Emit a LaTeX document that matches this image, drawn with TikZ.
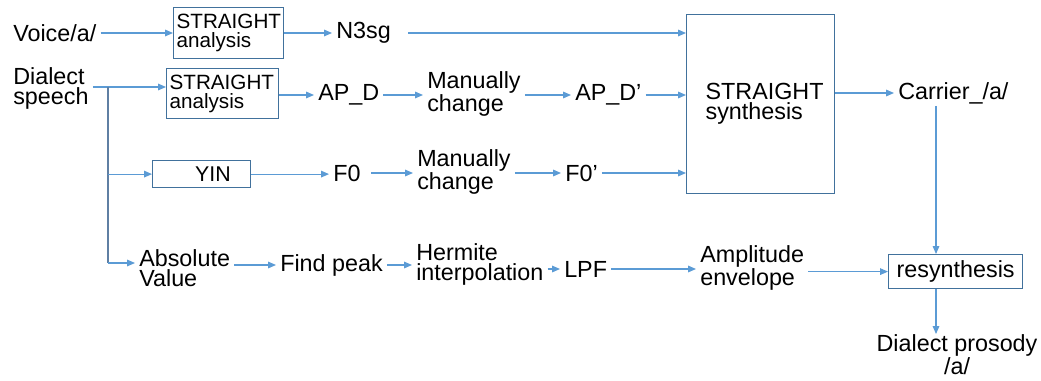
\documentclass[tikz,border=0pt]{standalone}
\usepackage{fontspec}
\setmainfont{Liberation Sans}
\usetikzlibrary{arrows.meta,calc}
\definecolor{arrowblue}{HTML}{5B9BD5}
\definecolor{boxblue}{HTML}{41719C}
\definecolor{trunkgray}{HTML}{5F7FA3}
\begin{document}
\begin{tikzpicture}[x=0.75pt,y=-0.75pt,
  txt/.style={inner xsep=3pt,inner ysep=0pt,anchor=west,font=\fontsize{17.5}{15}\selectfont,align=left},
  boxed/.style={draw=boxblue,line width=0.9pt,anchor=north west,inner ysep=0pt},
  arr/.style={draw=arrowblue,line width=0.8pt,-{Triangle[length=6pt,width=5pt]}},
  plain/.style={draw=arrowblue,line width=0.8pt},
]
\useasboundingbox (0,0) rectangle (1041,381);
% row 1
\node[txt] (voice) at (9,33) {Voice/a/};
\node[boxed,minimum width={110*0.75pt},minimum height={51*0.75pt},text width={104*0.75pt},inner xsep={3*0.75pt},align=left,font=\fontsize{15.5}{14}\selectfont] (box1) at (173,7) {STRAIGHT\\analysis};
\node[txt] (n3sg) at (332,33) {N3sg};
\node[boxed,minimum width={148*0.75pt},minimum height={179*0.75pt},text width={110*0.75pt},inner xsep={19*0.75pt},align=left,font=\fontsize{17.5}{15}\selectfont] (synth) at (686,14) {STRAIGHT\\synthesis};
% row 2
\node[txt] (dialect) at (9,88) {Dialect\\speech};
\node[boxed,minimum width={112*0.75pt},minimum height={50*0.75pt},text width={106*0.75pt},inner xsep={3*0.75pt},align=left,font=\fontsize{15.5}{14}\selectfont] (box2) at (166,68) {STRAIGHT\\analysis};
\node[txt] (apd) at (314,95) {AP\_D};
\node[txt] (man1) at (423,94) {Manually\\change};
\node[txt] (apd2) at (571,95) {AP\_D’};
\node[txt] (carrier) at (894,93) {Carrier\_/a/};
% row 3
\node[boxed,minimum width={98*0.75pt},minimum height={27*0.75pt},inner xsep=0pt,font=\fontsize{16}{16}\selectfont] (yin) at (152,160) {\hspace*{17pt}YIN};
\node[txt] (f0) at (329,173) {F0};
\node[txt] (man2) at (413,172) {Manually\\change};
\node[txt] (f0p) at (561,173) {F0’};
% row 4
\node[txt] (absval) at (135,268) {Absolute\\Value};
\node[txt] (peak) at (276,265) {Find peak};
\node[txt] (herm) at (412,264) {Hermite\\interpolation};
\node[txt] (lpf) at (560,269) {LPF};
\node[txt] (amp) at (696,268) {Amplitude\\envelope};
\node[boxed,minimum width={134*0.75pt},minimum height={34*0.75pt},inner xsep=0pt,font=\fontsize{17.5}{17.5}\selectfont] (resyn) at (888,254) {resynthesis};
\node[txt,anchor=north,align=center,inner xsep=0pt] (prosody) at (957,334) {Dialect prosody\\/a/};
% coordinates
\coordinate (t1) at (108,87);
\coordinate (t3) at (108,263);
\coordinate (c1) at (936,106);
% connectors row 1
\draw[arr] (voice.east) -- (voice.east -| box1.west);
\draw[arr] (box1.east |- n3sg) -- (n3sg.west);
\draw[arr,shorten <=10pt] (n3sg.east) -- (n3sg.east -| synth.west);
% row 2
\draw[arr] (t1 -| dialect.east) -- (t1 -| box2.west);
\draw[draw=trunkgray,line width=0.8pt] (t1) -- (t3);
\draw[arr] (box2.east |- apd) -- (apd.west);
\draw[arr] (apd.east) -- (apd.east -| man1.west);
\draw[arr] (man1.east |- apd2) -- (apd2.west);
\draw[arr] (apd2.east) -- (apd2.east -| synth.west);
\draw[arr] (synth.east |- carrier) -- (carrier.west);
\draw[arr] (c1) -- (c1 |- resyn.north);
% row 3
\draw[arr] (t1 |- yin) -- (yin.west);
\draw[arr] (yin.east) -- (yin.east -| f0.west);
\draw[arr,shorten <=5pt] (f0.east) -- (f0.east -| man2.west);
\draw[arr] (man2.east |- f0p) -- (f0p.west);
\draw[arr] (f0p.east) -- (f0p.east -| synth.west);
% row 4
\draw[arr] (t3) -- (t3 -| absval.west);
\draw[arr] (absval.east |- peak) -- (peak.west);
\draw[arr] (peak.east) -- (peak.east -| herm.west);
\draw[arr] (herm.east |- lpf) -- (lpf.west);
\draw[arr] (lpf.east) -- (lpf.east -| amp.west);
\draw[arr] (amp.east |- resyn) -- (resyn.west);
\draw[arr] (c1 |- resyn.south) -- (c1 |- prosody.north);
\end{tikzpicture}
\end{document}
